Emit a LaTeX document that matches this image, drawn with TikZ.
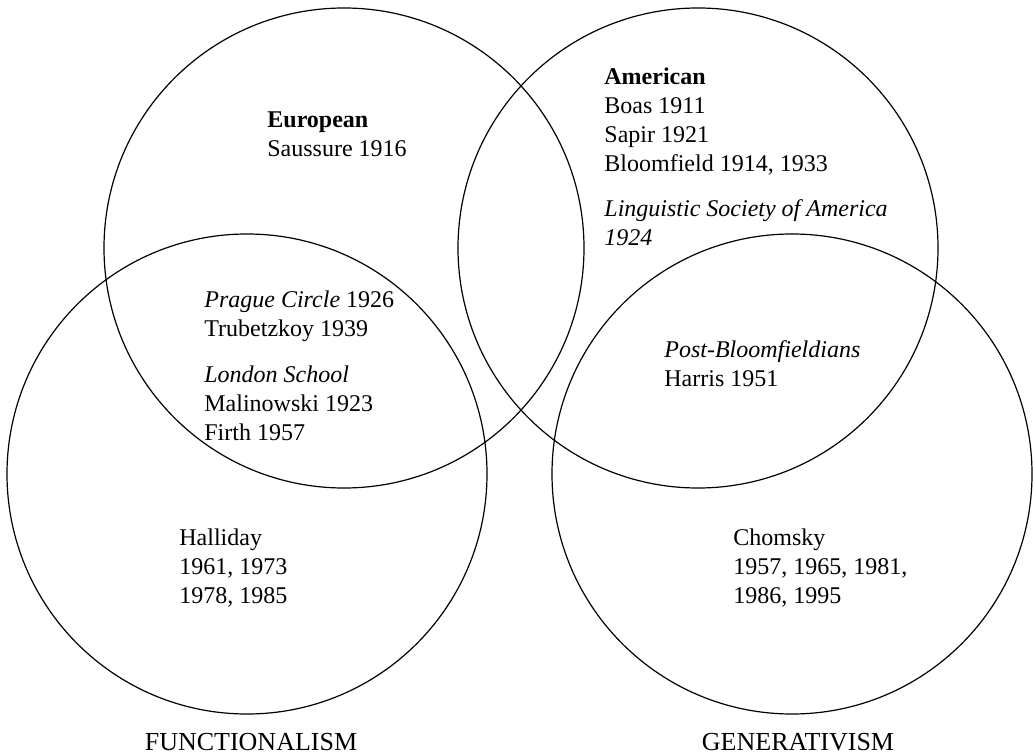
\documentclass[tikz,border=0pt]{standalone}
\usepackage{fontspec}
\setmainfont{Liberation Serif}
\usetikzlibrary{positioning}
\begin{document}
\begin{tikzpicture}[x=0.5pt,y=-0.5pt,
  ring/.style={draw,circle,line width=0.6pt,minimum size=240pt,inner sep=0pt},
  entry/.style={anchor=base west,align=left,inner sep=0pt,font=\fontsize{12}{14.5}\selectfont},
  school/.style={anchor=base,inner sep=0pt,font=\fontsize{13}{15}\selectfont}]
\useasboundingbox (0,0) rectangle (1033,754);

\node [ring] (eu) at (344,248) {};
\node [ring] (am) at (698,248) {};
\node [ring] (fu) at (247,474) {};
\node [ring] (ge) at (792,474) {};

\node [entry] (europe) at (267,157) {\textbf{European}\\Saussure 1916};
\node [entry] (prague) at (204,440) {\textit{Prague Circle} 1926\\Trubetzkoy 1939\\[8.5pt]\textit{London School}\\Malinowski 1923\\Firth 1957};
\node [entry] (halliday) at (179,603.3) {Halliday\\1961, 1973\\1978, 1985};
\node [entry] (american) at (604,246) {\textbf{American}\\Boas 1911\\Sapir 1921\\Bloomfield 1914, 1933\\[8pt]\textit{Linguistic Society of America}\\\textit{1924}};
\node [entry] (postbloom) at (664,386.7) {\textit{Post-Bloomfieldians}\\Harris 1951};
\node [entry] (chomsky) at (733,603.3) {Chomsky\\1957, 1965, 1981,\\1986, 1995};

\node [school] (functionalism) at (251,750) {FUNCTIONALISM};
\node [school] (generativism) at (798,750) {GENERATIVISM};
\end{tikzpicture}
\end{document}
